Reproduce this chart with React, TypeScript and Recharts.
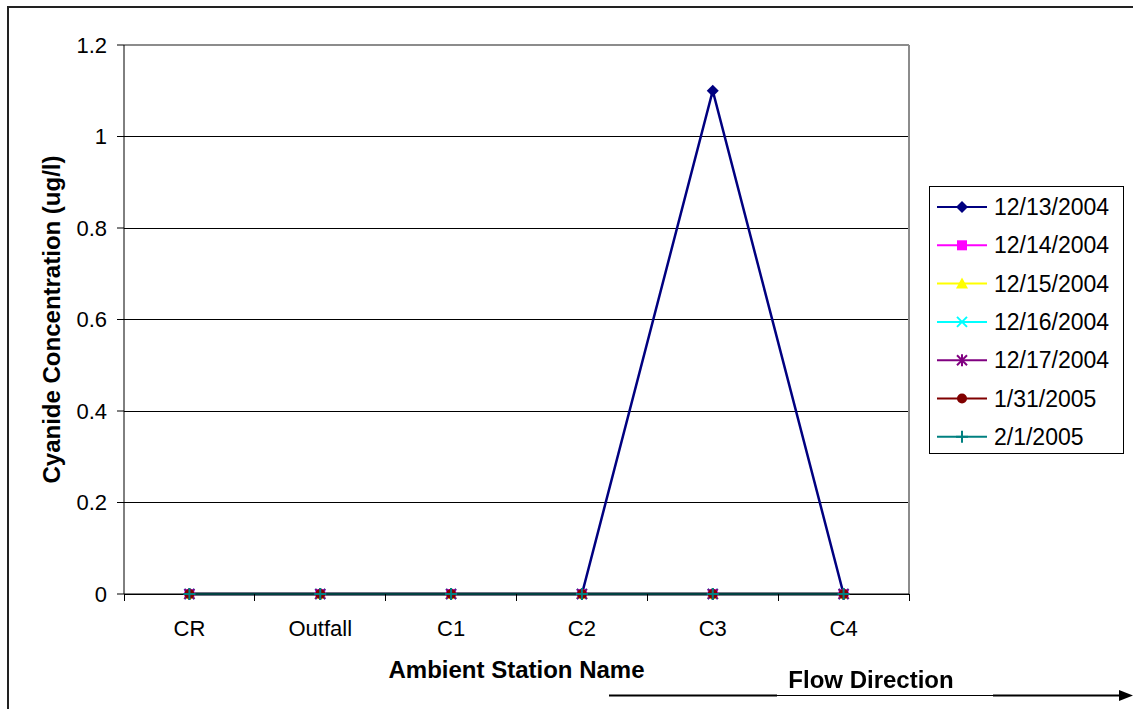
import { LineChart, Line, XAxis, YAxis, CartesianGrid, ReferenceLine, Label } from 'recharts';

const stations = ['CR', 'Outfall', 'C1', 'C2', 'C3', 'C4'];
const yTicks = [0, 0.2, 0.4, 0.6, 0.8, 1, 1.2];

// cyanide readings per sampling date, one value per station
const dec13 = [0, 0, 0, 0, 1.1, 0];
const dec14 = [0, 0, 0, 0, 0, 0];
const dec15 = [0, 0, 0, 0, 0, 0];
const dec16 = [0, 0, 0, 0, 0, 0];
const dec17 = [0, 0, 0, 0, 0, 0];
const jan31 = [0, 0, 0, 0, 0, 0];
const feb1 = [0, 0, 0, 0, 0, 0];

type Shape = 'diamond' | 'square' | 'triangle' | 'cross' | 'star' | 'circle' | 'plus';

const series: { key: string; name: string; values: number[]; color: string; shape: Shape }[] = [
  { key: 'd1', name: '12/13/2004', values: dec13, color: '#000080', shape: 'diamond' },
  { key: 'd2', name: '12/14/2004', values: dec14, color: '#FF00FF', shape: 'square' },
  { key: 'd3', name: '12/15/2004', values: dec15, color: '#FFFF00', shape: 'triangle' },
  { key: 'd4', name: '12/16/2004', values: dec16, color: '#00FFFF', shape: 'cross' },
  { key: 'd5', name: '12/17/2004', values: dec17, color: '#800080', shape: 'star' },
  { key: 'd6', name: '1/31/2005', values: jan31, color: '#800000', shape: 'circle' },
  { key: 'd7', name: '2/1/2005', values: feb1, color: '#008080', shape: 'plus' },
];

// stations sit in the middle of each category band
const rows = stations.map((name, i) => {
  const row: Record<string, number | string> = { pos: i + 0.5, name };
  series.forEach(s => { row[s.key] = s.values[i]; });
  return row;
});

const xTicks = Array.from({ length: stations.length * 2 + 1 }, (_, i) => i / 2);

const FONT = '"Liberation Sans", Arial, sans-serif';

function Marker({ cx, cy, color, shape }: { cx: number; cy: number; color: string; shape: Shape }) {
  switch (shape) {
    case 'diamond':
      return <polygon points={`${cx},${cy - 6} ${cx + 6},${cy} ${cx},${cy + 6} ${cx - 6},${cy}`} fill={color} />;
    case 'square':
      return <rect x={cx - 5} y={cy - 5} width={10} height={10} fill={color} />;
    case 'triangle':
      return <polygon points={`${cx},${cy - 6} ${cx + 6},${cy + 5} ${cx - 6},${cy + 5}`} fill={color} />;
    case 'cross':
      return (
        <g stroke={color} strokeWidth={2}>
          <line x1={cx - 5} y1={cy - 5} x2={cx + 5} y2={cy + 5} />
          <line x1={cx - 5} y1={cy + 5} x2={cx + 5} y2={cy - 5} />
        </g>
      );
    case 'star':
      return (
        <g stroke={color} strokeWidth={2}>
          <line x1={cx - 5} y1={cy - 5} x2={cx + 5} y2={cy + 5} />
          <line x1={cx - 5} y1={cy + 5} x2={cx + 5} y2={cy - 5} />
          <line x1={cx} y1={cy - 6} x2={cx} y2={cy + 6} />
        </g>
      );
    case 'circle':
      return <circle cx={cx} cy={cy} r={5} fill={color} />;
    case 'plus':
      return (
        <g stroke={color} strokeWidth={2}>
          <line x1={cx} y1={cy - 6} x2={cx} y2={cy + 6} />
          <line x1={cx - 6} y1={cy} x2={cx + 6} y2={cy} />
        </g>
      );
  }
  return null;
}

// integer ticks are band boundaries (tick marks), half ticks carry the station names
function StationTick(props: any) {
  const { x, y, payload } = props;
  const v = payload.value as number;
  if (Number.isInteger(v)) {
    return <line x1={x} x2={x} y1={y - 7} y2={y} stroke="#000" shapeRendering="crispEdges" />;
  }
  return (
    <text x={x} y={y + 35} textAnchor="middle" fontSize={22} fill="#000" fontFamily={FONT}>
      {stations[Math.floor(v)]}
    </text>
  );
}

function LegendBox() {
  return (
    <div
      style={{
        position: 'absolute',
        left: 921,
        top: 178,
        width: 193,
        height: 266,
        border: '1px solid #000',
        background: '#fff',
      }}
    >
      <svg width={193} height={266}>
        {series.map((s, i) => {
          const cy = 20 + i * 38.3;
          return (
            <g key={s.key}>
              <line x1={7} x2={57} y1={cy} y2={cy} stroke={s.color} strokeWidth={2} />
              <Marker cx={32} cy={cy} color={s.color} shape={s.shape} />
              <text x={64} y={cy + 8} fontSize={23} fill="#000" fontFamily={FONT}>
                {s.name}
              </text>
            </g>
          );
        })}
      </svg>
    </div>
  );
}

export default function App() {
  return (
    <div style={{ position: 'relative', width: 1117, height: 693, fontFamily: FONT }}>
      <LineChart
        width={1117}
        height={693}
        data={rows}
        margin={{ top: 37, right: 216, bottom: 47, left: 0 }}
        style={{ position: 'absolute', left: 0, top: 0 }}
      >
        <CartesianGrid horizontal vertical={false} stroke="#000" shapeRendering="crispEdges" />
        <ReferenceLine y={1.2} stroke="#8c8c8c" strokeWidth={2} />
        <ReferenceLine x={6} stroke="#8c8c8c" strokeWidth={2} />
        <XAxis
          type="number"
          dataKey="pos"
          domain={[0, 6]}
          ticks={xTicks}
          interval={0}
          height={60}
          tickSize={7}
          tickMargin={0}
          tickLine={false}
          tick={<StationTick />}
          axisLine={{ stroke: '#000' }}
        >
          <Label
            content={({ viewBox }: any) => (
              <text
                x={viewBox.x + viewBox.width / 2}
                y={viewBox.y + 84}
                textAnchor="middle"
                fontSize={24}
                fontWeight="bold"
                fill="#000"
                fontFamily={FONT}
              >
                Ambient Station Name
              </text>
            )}
          />
        </XAxis>
        <YAxis
          type="number"
          domain={[0, 1.2]}
          ticks={yTicks}
          width={116}
          tickSize={7}
          tickMargin={10}
          tick={{ fontSize: 22, fill: '#000', fontFamily: FONT }}
          tickLine={{ stroke: '#000' }}
          axisLine={{ stroke: '#000' }}
        >
          <Label
            content={({ viewBox }: any) => {
              const cx = 52;
              const cy = viewBox.y + viewBox.height / 2;
              return (
                <text
                  x={cx}
                  y={cy}
                  transform={`rotate(-90, ${cx}, ${cy})`}
                  textAnchor="middle"
                  fontSize={24}
                  fontWeight="bold"
                  fill="#000"
                  fontFamily={FONT}
                >
                  Cyanide Concentration (ug/l)
                </text>
              );
            }}
          />
        </YAxis>
        {series.map(s => (
          <Line
            key={s.key}
            dataKey={s.key}
            name={s.name}
            stroke={s.color}
            strokeWidth={2.5}
            isAnimationActive={false}
            dot={(p: any) => <Marker key={`${s.key}-${p.index}`} cx={p.cx} cy={p.cy} color={s.color} shape={s.shape} />}
            activeDot={false}
          />
        ))}
      </LineChart>
      <LegendBox />
      {/* outer frame and flow-direction arrow, pinned to the viewport */}
      <svg
        width={1133}
        height={709}
        style={{ position: 'fixed', left: 0, top: 0, pointerEvents: 'none' }}
      >
        <rect x={7} y={6} width={1126} height={2} fill="#222" />
        <rect x={7} y={6} width={2} height={703} fill="#222" />
        <line x1={609} x2={777} y1={695.5} y2={695.5} stroke="#000" strokeWidth={2} />
        <line x1={777} x2={993} y1={695.5} y2={695.5} stroke="#000" strokeWidth={1} />
        <line x1={993} x2={1122} y1={695.5} y2={695.5} stroke="#000" strokeWidth={2} />
        <polygon points="1119,690 1133,695.5 1119,701" fill="#000" />
        <text x={871} y={688} textAnchor="middle" fontSize={24} fontWeight="bold" fill="#000" fontFamily={FONT}>
          Flow Direction
        </text>
      </svg>
    </div>
  );
}
